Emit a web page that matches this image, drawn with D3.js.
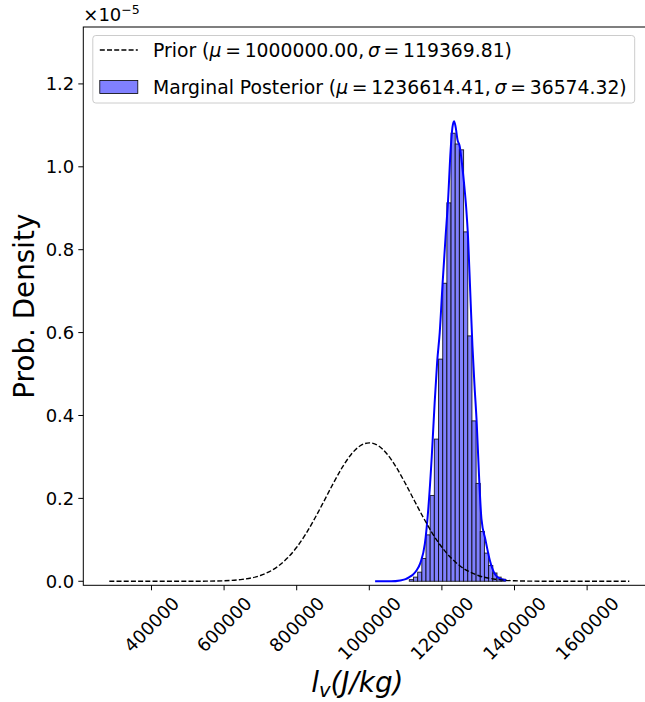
<!DOCTYPE html>
<meta charset="utf-8">
<style>
body { margin: 0; background: #fff; }
svg { font-family: "DejaVu Sans", sans-serif; }
.tick-label { font-size: 18px; fill: #000; }
</style>
<svg width="645" height="702"></svg>
<script src="https://cdn.jsdelivr.net/npm/d3@7/dist/d3.min.js"></script>
<script>

// posterior histogram: bin edges (J/kg) and densities (x 1e-5)
var binEdges = [1110200, 1121700, 1133200, 1144700, 1156200, 1167700, 1179200, 1190700,
  1202200, 1213700, 1225200, 1236700, 1248200, 1259700, 1271200, 1282700, 1294200,
  1305700, 1317200, 1328700, 1340200, 1351700, 1363200, 1374700];
var binHeights = [0.004, 0.010, 0.022, 0.055, 0.112, 0.207, 0.343, 0.536, 0.719, 0.913,
  1.081, 1.055, 1.041, 0.843, 0.592, 0.387, 0.236, 0.120, 0.068, 0.038, 0.020, 0.010, 0.005];

// posterior kde curve
var kdeX = [1016000, 1060000, 1085000, 1100000, 1110000, 1120000, 1130000, 1141000, 1153000,
  1163000, 1172000, 1180000, 1187000, 1194000, 1202000, 1210000, 1217000, 1224000, 1229000,
  1233500, 1238000, 1243000, 1249000, 1255000, 1261000, 1267000, 1272000, 1278000, 1284000,
  1290000, 1296000, 1302000, 1309000, 1320000, 1332000, 1345000, 1355000, 1364000, 1378000];
var kdeY = [0.000, 0.000, 0.002, 0.005, 0.010, 0.016, 0.026, 0.045, 0.090,
  0.180, 0.300, 0.430, 0.530, 0.600, 0.720, 0.830, 0.920, 1.040, 1.095,
  1.110, 1.095, 1.065, 1.050, 1.010, 0.960, 0.900, 0.830, 0.700, 0.570,
  0.470, 0.380, 0.260, 0.150, 0.100, 0.051, 0.019, 0.009, 0.005, 0.002];

// prior curve
var priorX = [283800, 400000, 500000, 550000, 600000, 650000, 700000, 750000, 775000, 800000,
  825000, 850000, 875000, 900000, 925000, 950000, 975000, 1000000, 1025000, 1050000, 1075000,
  1100000, 1125000, 1150000, 1175000, 1200000, 1225000, 1250000, 1300000, 1350000, 1400000,
  1450000, 1500000, 1600000, 1716200];
var priorY = [0.000, 0.000, 0.0001, 0.0003, 0.0012, 0.0046, 0.014, 0.037, 0.0565, 0.082,
  0.114, 0.152, 0.193, 0.235, 0.274, 0.306, 0.327, 0.334, 0.327, 0.306, 0.274,
  0.235, 0.193, 0.152, 0.114, 0.082, 0.0565, 0.037, 0.014, 0.0046, 0.0012,
  0.0003, 0.0001, 0.000, 0.000];

var xTicks = [400000, 600000, 800000, 1000000, 1200000, 1400000, 1600000];
var yTicks = [0.0, 0.2, 0.4, 0.6, 0.8, 1.0, 1.2];
var legendLabels = [
  ["Prior (", "μ", "\u2009=\u20091000000.00,\u2009", "σ", "\u2009=\u2009119369.81)"],
  ["Marginal Posterior (", "μ", "\u2009=\u20091236614.41,\u2009", "σ", "\u2009=\u200936574.32)"]
];

var svg = d3.select("svg");
var pLeft = 83.3, pTop = 27, pRight = 655.3, pBottom = 585.3;

var x = d3.scaleLinear().domain([212159, 1787841]).range([pLeft, pRight]);
var y = d3.scaleLinear().domain([-0.0097, 1.3373]).range([pBottom, pTop]);

svg.append("clipPath").attr("id", "clip")
  .append("rect").attr("x", pLeft).attr("y", pTop)
  .attr("width", pRight - pLeft).attr("height", pBottom - pTop);

var plot = svg.append("g").attr("clip-path", "url(#clip)");

// histogram bars
plot.selectAll("rect.bar")
  .data(binHeights)
  .enter().append("rect")
    .attr("class", "bar")
    .attr("x", function(d, i) { return x(binEdges[i]); })
    .attr("width", function(d, i) { return x(binEdges[i + 1]) - x(binEdges[i]); })
    .attr("y", function(d) { return y(d); })
    .attr("height", function(d) { return y(0) - y(d); })
    .attr("fill", "#8080ff")
    .attr("stroke", "#000")
    .attr("stroke-opacity", 0.8)
    .attr("stroke-width", 1);

var kdeLine = d3.line()
  .x(function(d, i) { return x(kdeX[i]); })
  .y(function(d) { return y(d); })
  .curve(d3.curveMonotoneX);

plot.append("path")
  .attr("d", kdeLine(kdeY))
  .attr("fill", "none")
  .attr("stroke", "#0000ff")
  .attr("stroke-width", 2);

var priorLine = d3.line()
  .x(function(d, i) { return x(priorX[i]); })
  .y(function(d) { return y(d); })
  .curve(d3.curveMonotoneX);

plot.append("path")
  .attr("d", priorLine(priorY))
  .attr("fill", "none")
  .attr("stroke", "#000")
  .attr("stroke-width", 1.4)
  .attr("stroke-dasharray", "5,2.2");

// frame
svg.append("rect")
  .attr("x", pLeft).attr("y", pTop)
  .attr("width", pRight - pLeft).attr("height", pBottom - pTop)
  .attr("fill", "none").attr("stroke", "#000").attr("stroke-width", 1);

// y axis ticks
var yt = svg.append("g").selectAll("g").data(yTicks).enter().append("g");
yt.append("line")
  .attr("x1", pLeft - 5).attr("x2", pLeft)
  .attr("y1", function(d) { return y(d); }).attr("y2", function(d) { return y(d); })
  .attr("stroke", "#000");
yt.append("text")
  .attr("class", "tick-label")
  .attr("x", pLeft - 9)
  .attr("y", function(d) { return y(d); })
  .attr("dy", "0.36em")
  .attr("text-anchor", "end")
  .text(function(d) { return d.toFixed(1); });

// x axis ticks, rotated labels
var xt = svg.append("g").selectAll("g").data(xTicks).enter().append("g");
xt.append("line")
  .attr("x1", function(d) { return x(d); }).attr("x2", function(d) { return x(d); })
  .attr("y1", pBottom).attr("y2", pBottom + 5)
  .attr("stroke", "#000");
xt.append("text")
  .attr("class", "tick-label")
  .attr("text-anchor", "middle")
  .attr("dy", "0.36em")
  .text(function(d) { return d; })
  .attr("transform", function(d) {
    var L = this.getComputedTextLength();
    var h = 18 * 0.75;
    var half = (L + h) * Math.SQRT1_2 / 2;
    return "translate(" + x(d) + "," + (pBottom + 10 + half) + ") rotate(-45)";
  });

// offset text
var off = svg.append("text")
  .attr("x", pLeft).attr("y", 21)
  .style("font-size", "18px")
  .text("×10");
off.append("tspan")
  .attr("dy", -7)
  .style("font-size", "12.5px")
  .text("−5");

// axis labels
svg.append("text")
  .attr("transform", "translate(34," + ((pTop + pBottom) / 2) + ") rotate(-90)")
  .attr("text-anchor", "middle")
  .style("font-size", "27.8px")
  .text("Prob. Density");

var xl = svg.append("text")
  .attr("x", (pLeft + pRight) / 2 - 12)
  .attr("y", 692)
  .attr("text-anchor", "middle")
  .style("font-size", "27.8px")
  .style("font-style", "italic");
xl.append("tspan").text("l");
xl.append("tspan").attr("dy", 5).style("font-size", "19.5px").text("v");
xl.append("tspan").attr("dy", -5).text("(J/kg)");

// legend
var fs = 18.8;
var lg = svg.append("g");
var bx = pLeft + 9.5, by = pTop + 8.5;
var box = lg.append("rect")
  .attr("x", bx).attr("y", by)
  .attr("rx", 3).attr("ry", 3)
  .attr("fill", "#fff").attr("fill-opacity", 0.8)
  .attr("stroke", "#ccc").attr("stroke-width", 1);

var rowY = [50, 87];
var hx = bx + 7;
var tx = 153;

lg.append("line")
  .attr("x1", hx).attr("x2", hx + 38)
  .attr("y1", rowY[0]).attr("y2", rowY[0])
  .attr("stroke", "#000").attr("stroke-width", 1.4)
  .attr("stroke-dasharray", "5,2.2");
lg.append("rect")
  .attr("x", hx).attr("y", rowY[1] - 6.5)
  .attr("width", 38).attr("height", 13)
  .attr("fill", "#8080ff").attr("stroke", "#000").attr("stroke-width", 0.8);

var maxW = 0;
legendLabels.forEach(function(parts, r) {
  var t = lg.append("text")
    .attr("x", tx).attr("y", rowY[r]).attr("dy", "0.36em")
    .style("font-size", fs + "px");
  parts.forEach(function(p, k) {
    t.append("tspan")
      .style("font-style", (k === 1 || k === 3) ? "italic" : "normal")
      .text(p);
  });
  maxW = Math.max(maxW, t.node().getComputedTextLength());
});
box.attr("width", tx + maxW + 8 - bx)
   .attr("height", 103 - by);

</script>
